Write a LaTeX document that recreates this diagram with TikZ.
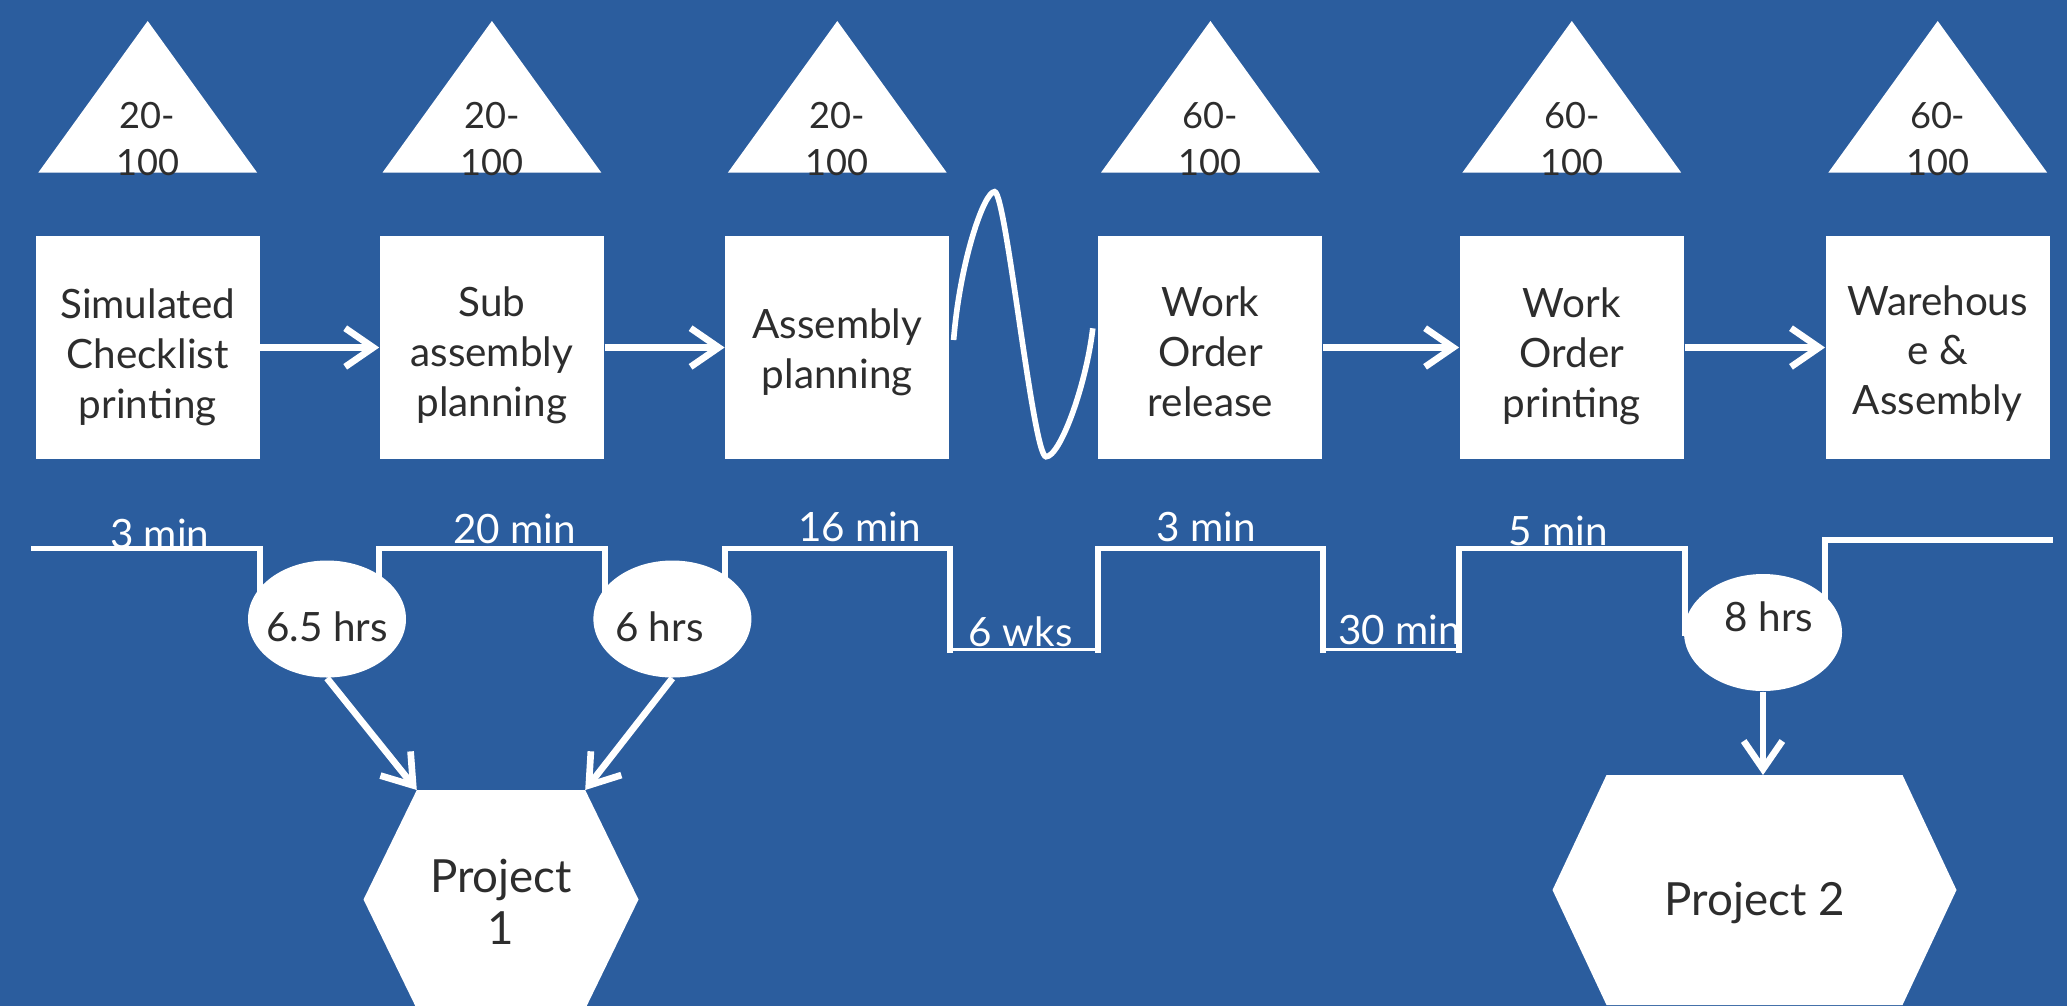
\documentclass[tikz,border=0pt]{standalone}
\usepackage{fontspec}
\setmainfont{Lato}
\usetikzlibrary{arrows.meta,shapes.geometric}

\definecolor{slideblue}{RGB}{43,93,158}
\definecolor{ink}{RGB}{45,45,45}

\tikzset{
  stepbox/.style={fill=white, minimum width=2.24cm, minimum height=2.23cm, inner sep=0pt},
  steptext/.style={inner sep=0pt, align=center, text=ink, font=\fontsize{11.5}{14.2}\selectfont},
  stocklabel/.style={inner sep=0pt, align=center, anchor=south, text=ink, font=\fontsize{10.3}{13.2}\selectfont},
  delay/.style={ellipse, fill=white, minimum width=1.58cm, minimum height=1.17cm, inner sep=0pt},
  delaytext/.style={inner sep=0pt, text=ink, font=\fontsize{11.5}{14}\selectfont},
  project/.style={inner sep=0pt, align=center, text=ink, font=\fontsize{13}{15}\selectfont},
  timelabel/.style={inner sep=0pt, anchor=base, text=white, font=\fontsize{11.5}{14}\selectfont},
  flow/.style={draw=white, line width=1.9pt, -{Straight Barb[length=8pt,width=11pt]}},
  timeline/.style={draw=white, line width=1.7pt, line cap=rect},
  timelow/.style={draw=white, line width=0.95pt},
}

\begin{document}
\begin{tikzpicture}
    \fill[slideblue] (0,0) rectangle (20.67,10.06);
    \useasboundingbox (0,0) rectangle (20.67,10.06);

    \node[stepbox] (b1) at (1.477,6.585) {};
    \node[stepbox] (b2) at (4.919,6.585) {};
    \node[stepbox] (b3) at (8.373,6.585) {};
    \node[stepbox] (b4) at (12.104,6.585) {};
    \node[stepbox] (b5) at (15.718,6.585) {};
    \node[stepbox] (b6) at (19.377,6.585) {};

    \node[steptext] (b1t) at ([yshift=-0.1cm]b1.center) {Simulated\\Checklist\\printing};
    \node[steptext] (b2t) at ([yshift=-0.08cm]b2.center) {Sub\\assembly\\planning};
    \node[steptext] (b3t) at ([yshift=-0.05cm]b3.center) {Assembly\\planning};
    \node[steptext] (b4t) at ([yshift=-0.04cm]b4.center) {Work\\Order\\release};
    \node[steptext] (b5t) at ([yshift=-0.09cm]b5.center) {Work\\Order\\printing};
    \node[steptext] (b6t) at ([yshift=-0.06cm]b6.center) {Warehous\\e \&\\Assembly};

    \foreach \b/\q in {b1/20,b2/20,b3/20,b4/60,b5/60,b6/60} {
        \fill[white] (\b.north) ++(-1.094,0.627) -- ++(1.094,1.516) -- ++(1.094,-1.516) -- cycle;
        \node[stocklabel] (q\b) at ([yshift=0.593cm]\b.north) {\q-\\100};
    }

    \draw[flow] (b1) -- (b2);
    \draw[flow] (b2) -- (b3);
    \draw[flow] (b4) -- (b5);
    \draw[flow] (b5) -- (b6);

    \draw[white, line width=1.6pt] (9.536,6.66) .. controls (9.60,7.45) and (9.84,8.143) .. (9.946,8.143)
        .. controls (10.06,8.143) and (10.33,5.493) .. (10.46,5.493)
        .. controls (10.60,5.493) and (10.86,6.2) .. (10.928,6.777);

    \draw[timeline] (0.337,4.575) -| (b1.east |- 0,3.87) -| (b2.west |- 0,4.575)
        -| (b2.east |- 0,3.87) -| (b3.west |- 0,4.575) -| (b3.east |- 0,3.565);
    \draw[timelow] (b3.east |- 0,3.565) -- (b4.west |- 0,3.565);
    \draw[timeline] (b4.west |- 0,3.565) |- (b4.east |- 0,4.575) -- (b4.east |- 0,3.565);
    \draw[timelow] (b4.east |- 0,3.565) -- (b5.west |- 0,3.565);
    \draw[timeline] (b5.west |- 0,3.565) |- (b5.east |- 0,4.575) |- (b6.west |- 0,3.735)
        |- (b6.east |- 0,4.66);

    \node[timelabel] (t1) at (1.597,4.58) {3 min};
    \node[timelabel] (t2) at (5.148,4.63) {20 min};
    \node[timelabel] (t3) at (8.594,4.643) {16 min};
    \node[timelabel] (t4) at (12.06,4.643) {3 min};
    \node[timelabel] (t5) at (15.58,4.61) {5 min};
    \node[timelabel] (w1) at (10.207,3.6) {6 wks};
    \node[timelabel, anchor=base west] (w2) at (13.374,3.62) {30 min};

    \node[delay] (c1) at (3.27,3.87) {};
    \node[delay] (c2) at (6.724,3.87) {};
    \node[delay] (c3) at (17.63,3.735) {};
    \node[delaytext] (c1t) at ([yshift=-0.08cm]c1.center) {6.5 hrs};
    \node[delaytext] (c2t) at ([xshift=-0.13cm,yshift=-0.08cm]c2.center) {6 hrs};
    \node[delaytext] (c3t) at ([xshift=0.06cm,yshift=0.16cm]c3.center) {8 hrs};

    \coordinate (p1nw) at (4.168,2.16);
    \coordinate (p1ne) at (5.852,2.16);
    \fill[white] (p1nw) -- (p1ne) -- (6.385,1.065) -- (5.852,-0.03) -- (4.168,-0.03) -- (3.635,1.065) -- cycle;
    \node[project] (p1) at (5.01,1.043) {Project\\1};

    \coordinate (p2n) at (17.545,2.31);
    \fill[white] (16.065,2.31) -- (19.025,2.31) -- (19.565,1.16) -- (19.025,0.01) -- (16.065,0.01) -- (15.525,1.16) -- cycle;
    \node[project] (p2) at (17.545,1.03) {Project 2};

    \draw[flow] (c1.south) -- (p1nw);
    \draw[flow] (c2.south) -- (p1ne);
    \draw[flow] (c3.south) -- (c3.south |- p2n);
\end{tikzpicture}
\end{document}
